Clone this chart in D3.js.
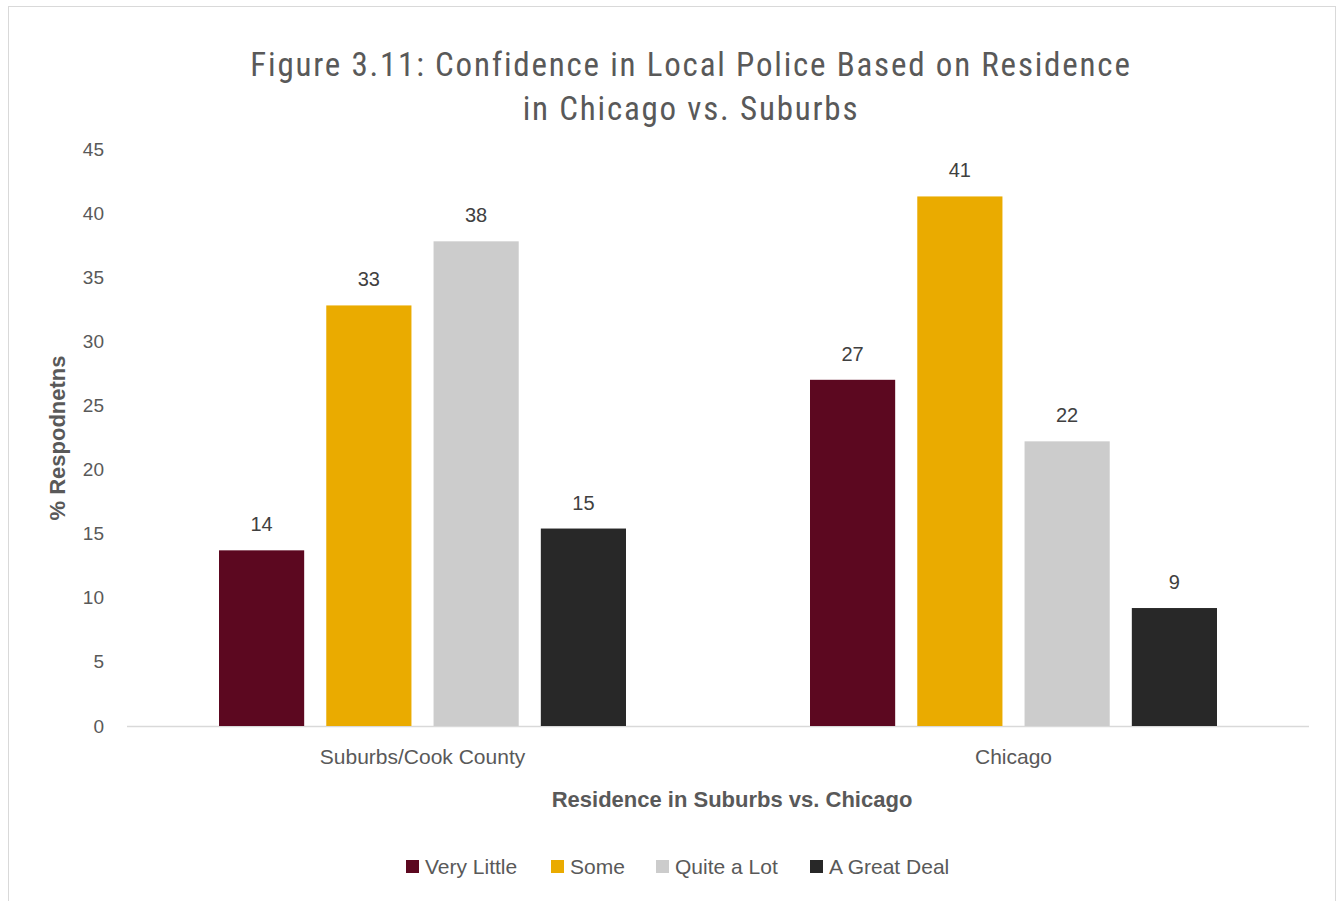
<!DOCTYPE html>
<html>
<head>
<meta charset="utf-8">
<script src="https://cdn.jsdelivr.net/npm/d3@7"></script>
<style>
  body { margin: 0; background: #fff; }
  svg text { font-family: "Liberation Sans", Arial, sans-serif; }
</style>
</head>
<body>
<script>
// chart data
var groups = ["Suburbs/Cook County", "Chicago"];
var levels = ["Very Little", "Some", "Quite a Lot", "A Great Deal"];
var suburbsVals = [13.7, 32.8, 37.8, 15.4];
var chicagoVals = [27.0, 41.3, 22.2, 9.2];
var yTicks = [0, 5, 10, 15, 20, 25, 30, 35, 40, 45];
var colors = ["#5C0820", "#EAAB00", "#CCCCCC", "#282828"];

var width = 1344, height = 901;
var margin = {left: 127, right: 35, top: 149, bottom: 175};

var svg = d3.select("body").append("svg")
    .attr("width", width)
    .attr("height", height);

// outer frame
svg.append("rect")
    .attr("x", 8.5).attr("y", 6.5)
    .attr("width", 1327).attr("height", 900)
    .attr("fill", "#fff")
    .attr("stroke", "#d9d9d9");

// title
var title = svg.append("text")
    .attr("text-anchor", "middle")
    .attr("fill", "#595959")
    .style("font-family", "'Liberation Sans Narrow', 'Roboto Condensed', sans-serif")
    .style("font-size", "33px")
    .style("letter-spacing", "1.8px");
title.append("tspan").attr("x", 691).attr("y", 76).text("Figure 3.11: Confidence in Local Police Based on Residence");
title.append("tspan").attr("x", 691).attr("y", 120).text("in Chicago vs. Suburbs");

var x0 = d3.scaleBand()
    .domain(groups)
    .range([margin.left, width - margin.right])
    .padding(0);

var x1 = d3.scaleBand()
    .domain(levels)
    .range([92, x0.bandwidth() - 92])
    .paddingInner(0.206);

var y = d3.scaleLinear()
    .domain([0, 45])
    .range([height - margin.bottom, margin.top]);

// y axis labels
var yAxis = d3.axisLeft(y).tickValues(yTicks).tickSize(0).tickPadding(0);
var yg = svg.append("g")
    .attr("transform", "translate(" + 104 + ",0)")
    .call(yAxis);
yg.select(".domain").remove();
yg.selectAll("text")
    .attr("fill", "#595959")
    .style("font-size", "19px");

// baseline
svg.append("line")
    .attr("x1", margin.left).attr("x2", width - margin.right)
    .attr("y1", y(0) + 0.5).attr("y2", y(0) + 0.5)
    .attr("stroke", "#d9d9d9")
    .attr("stroke-width", 1.5);

var rows = [suburbsVals, chicagoVals];

var g = svg.selectAll(".group")
    .data(groups)
    .enter().append("g")
    .attr("class", "group")
    .attr("transform", function(d){ return "translate(" + x0(d) + ",0)"; });

g.selectAll("rect")
    .data(function(d, i){
        return levels.map(function(l, j){ return {level: l, value: rows[i][j], idx: j}; });
    })
    .enter().append("rect")
    .attr("x", function(d){ return x1(d.level); })
    .attr("width", x1.bandwidth())
    .attr("y", function(d){ return y(d.value); })
    .attr("height", function(d){ return y(0) - y(d.value); })
    .attr("fill", function(d){ return colors[d.idx]; });

// value labels
g.selectAll(".lbl")
    .data(function(d, i){
        return levels.map(function(l, j){ return {level: l, value: rows[i][j]}; });
    })
    .enter().append("text")
    .attr("class", "lbl")
    .attr("x", function(d){ return x1(d.level) + x1.bandwidth() / 2; })
    .attr("y", function(d){ return y(d.value) - 19; })
    .attr("text-anchor", "middle")
    .attr("fill", "#404040")
    .style("font-size", "20px")
    .text(function(d){ return Math.round(d.value); });

// x category labels
svg.selectAll(".xlab")
    .data(groups)
    .enter().append("text")
    .attr("x", function(d){ return x0(d) + x0.bandwidth() / 2; })
    .attr("y", 764)
    .attr("text-anchor", "middle")
    .attr("fill", "#595959")
    .style("font-family", "'Liberation Sans Narrow', sans-serif")
    .style("font-size", "21px")
    .text(function(d){ return d; });

// axis titles
svg.append("text")
    .attr("x", 732).attr("y", 807)
    .attr("text-anchor", "middle")
    .attr("fill", "#595959")
    .style("font-family", "'Liberation Sans Narrow', sans-serif")
    .style("font-weight", "bold")
    .style("font-size", "22px")
    .text("Residence in Suburbs vs. Chicago");

svg.append("text")
    .attr("transform", "translate(65,438) rotate(-90)")
    .attr("text-anchor", "middle")
    .attr("fill", "#595959")
    .style("font-family", "'Liberation Sans Narrow', sans-serif")
    .style("font-weight", "bold")
    .style("font-size", "22px")
    .text("% Respodnetns");

// legend
var legendX = [406, 551, 656, 810];
var lg = svg.selectAll(".leg")
    .data(levels)
    .enter().append("g")
    .attr("transform", function(d, i){ return "translate(" + legendX[i] + ",860)"; });
lg.append("rect")
    .attr("width", 13).attr("height", 13)
    .attr("fill", function(d, i){ return colors[i]; });
lg.append("text")
    .attr("x", 19).attr("y", 14)
    .attr("fill", "#595959")
    .style("font-family", "'Liberation Sans Narrow', sans-serif")
    .style("font-size", "21px")
    .text(function(d){ return d; });
</script>
</body>
</html>
